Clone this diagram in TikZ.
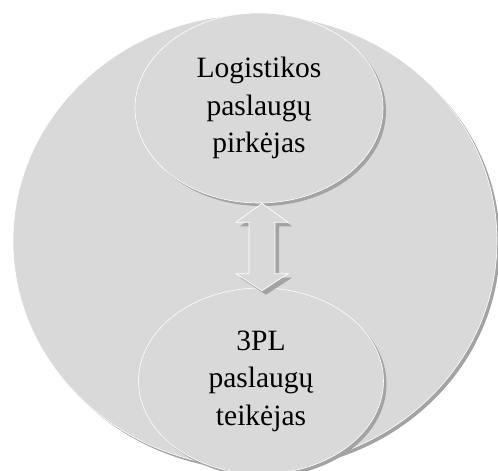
\documentclass[tikz,border=0pt]{standalone}
\usepackage{fontspec}
\setmainfont{Liberation Serif}
\usetikzlibrary{shapes.geometric,shadows,calc}

\definecolor{discfill}{HTML}{D9D9D9}
\definecolor{discshade}{HTML}{A3A3A3}

\tikzset{
  softshadow/.style={general shadow={shadow xshift=3pt, shadow yshift=-3pt,
      fill=discshade, opacity=1}},
  disc/.style={ellipse, fill=discfill, draw=white, line width=0.6pt,
      softshadow, inner sep=0pt},
  party/.style={disc, align=center, font=\fontsize{29.5}{37.5}\selectfont},
  dualarrow/.style={fill=discfill, draw=white, line width=0.7pt, line join=miter,
      general shadow={shadow xshift=4pt, shadow yshift=-4pt, fill=discshade, opacity=1}}
}

\begin{document}
\begin{tikzpicture}[x=1pt, y=-1pt]
  \useasboundingbox (0,0) rectangle (498,471);

  % outer field
  \node[disc, minimum width=484pt, minimum height=453pt] (field) at (255,241) {};

  % the two parties
  \node[party, minimum width=248pt, minimum height=190pt] (buyer) at (259,108)
    {Logistikos\\paslaugų\\pirkėjas};
  \node[party, minimum width=245pt, minimum height=186pt] (provider) at (261,381)
    {3PL\\paslaugų\\teikėjas};

  % two-headed block arrow between them
  \coordinate (tipA) at ([xshift=3pt]buyer.south);
  \coordinate (tipB) at ([yshift=-3pt]tipA |- provider.north);
  \draw[dualarrow]
    (tipA) -- ($(tipA)+(26,19)$) -- ($(tipA)+(13,19)$)
    -- ($(tipB)+(13,-17)$) -- ($(tipB)+(26,-17)$) -- (tipB)
    -- ($(tipB)+(-26,-17)$) -- ($(tipB)+(-13,-17)$)
    -- ($(tipA)+(-13,19)$) -- ($(tipA)+(-26,19)$) -- cycle;
\end{tikzpicture}
\end{document}
